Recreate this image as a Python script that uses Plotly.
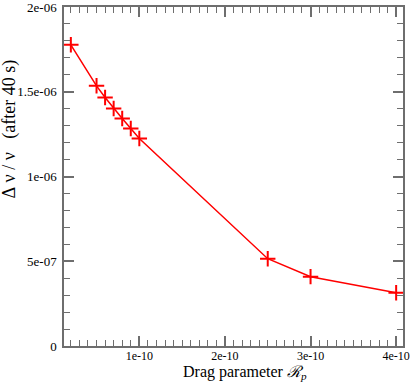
import plotly.graph_objects as go

# drag parameter R_p and relative frequency shift after 40 s
drag = [2e-11, 5e-11, 6e-11, 7e-11, 8e-11, 9e-11, 1e-10, 2.5e-10, 3e-10, 4e-10]
dnu = [1.777e-6, 1.535e-6, 1.466e-6, 1.401e-6, 1.342e-6, 1.283e-6, 1.224e-6,
       0.515e-6, 0.409e-6, 0.314e-6]

x_ticks = [1e-10, 2e-10, 3e-10, 4e-10]
x_labels = ["1e-10", "2e-10", "3e-10", "4e-10"]
y_ticks = [0, 5e-7, 1e-6, 1.5e-6, 2e-6]
y_labels = ["0", "5e-07", "1e-06", "1.5e-06", "2e-06"]

red = "#ff0000"
grey = "#6e6e6e"
serif = "Liberation Serif, Times New Roman, serif"

fig = go.Figure()
fig.add_trace(go.Scatter(
    x=drag, y=dnu, mode="lines+markers",
    line=dict(color=red, width=1.5),
    marker=dict(symbol="cross-thin", size=11, line=dict(color=red, width=2)),
    showlegend=False, hoverinfo="skip",
))

axis_common = dict(
    showgrid=False, zeroline=False, showline=True, linecolor=grey, linewidth=1.5,
    mirror="ticks", ticks="inside", ticklen=10, tickcolor=grey, tickwidth=1.5,
    tickfont=dict(family=serif, size=13, color="#000"), automargin=False,
    ticklabeloverflow="allow",
)

fig.update_xaxes(
    range=[1.2e-11, 4.08e-10], tickvals=x_ticks, ticktext=x_labels,
    minor=dict(ticks="inside", dtick=1e-11, ticklen=6, tickcolor=grey, tickwidth=1),
    **axis_common,
)
fig.update_xaxes(tickfont_size=12, ticklabelstandoff=-2)
fig.update_yaxes(
    range=[0, 2e-6], tickvals=y_ticks, ticktext=y_labels, ticklabelstandoff=3,
    minor=dict(ticks="inside", dtick=1e-7, ticklen=6, tickcolor=grey, tickwidth=1),
    **axis_common,
)

# axis titles as annotations so the plot frame stays put
fig.add_annotation(
    text="Drag parameter <i>ℛ</i><sub><i>p</i></sub>", xref="paper", yref="paper",
    x=0.5, y=0, xanchor="center", yanchor="middle", xshift=11, yshift=-26,
    showarrow=False, font=dict(family=serif, size=16, color="#000"),
)
fig.add_annotation(
    text="Δ&nbsp;ν&nbsp;/&nbsp;ν&nbsp;&nbsp;&nbsp;(after 40 s)", xref="paper", yref="paper",
    x=0, y=0.5, xanchor="center", yanchor="middle", xshift=-55, yshift=47,
    textangle=-90, showarrow=False, font=dict(family=serif, size=18, color="#000"),
)

fig.update_layout(
    width=413, height=382,
    margin=dict(l=64, r=10, t=7, b=36),
    paper_bgcolor="white", plot_bgcolor="white",
)

fig.write_html("out.html", config={"displayModeBar": False},
               post_script="document.body.style.margin='0';")
